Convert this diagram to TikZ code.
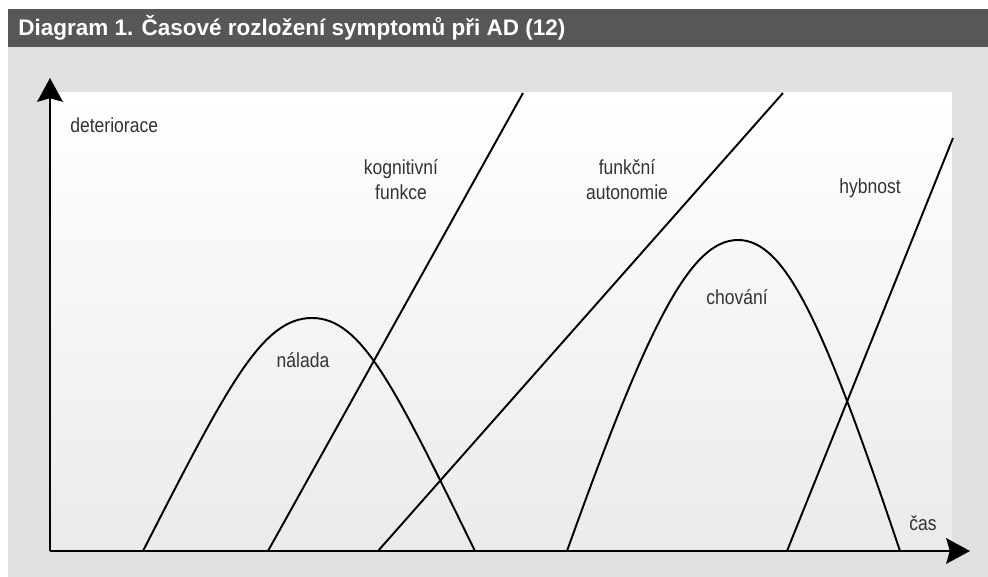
\documentclass[tikz,border=0pt]{standalone}
\usepackage{fontspec}
\setmainfont[FakeStretch=0.86]{Liberation Sans}
\newfontfamily\bannerfont{Liberation Sans}
\usetikzlibrary{arrows.meta}
\begin{document}
\begin{tikzpicture}[
  x=0.02cm, y=-0.02cm,
  axis/.style={line width=1.7pt, -{Stealth[length=13.5pt, width=14.5pt, inset=2pt]}},
  trend/.style={line width=1.1pt},
  lbl/.style={font=\fontsize{11.6}{14.2}\selectfont, text=black!80, align=center, inner sep=0pt},
  banner/.style={font=\bannerfont\fontsize{12.8}{15}\selectfont\bfseries, text=white, inner sep=0pt, anchor=west}
]
\useasboundingbox[fill=white] (0,0) rectangle (988,577);
\fill[black!66] (8,9) rectangle (988,47);
\fill[black!12] (8,47) rectangle (988,577);
\shade[top color=white, bottom color=black!8] (50,93) rectangle (952,551);

\node[banner] (title) at (18,28) {Diagram 1. Časové rozložení symptomů při AD (12)};

\coordinate (o)    at (50,551);
\coordinate (ytip) at (50,78);
\coordinate (xtip) at (970,551);

\coordinate (kf0) at (268,551);
\coordinate (kf1) at (523,93);
\coordinate (fa0) at (378,551);
\coordinate (fa1) at (783,93);
\coordinate (hb0) at (787,551);
\coordinate (hb1) at (953,138);
\coordinate (na0) at (143,551);
\coordinate (na1) at (312,318);
\coordinate (na2) at (475,551);
\coordinate (ch0) at (567,551);
\coordinate (ch1) at (738,240);
\coordinate (ch2) at (900,551);

\draw[trend] (kf0) -- (kf1);
\draw[trend] (fa0) -- (fa1);
\draw[trend] (hb0) -- (hb1);
\draw[trend] (na0) .. controls (228,385) and (262,318) .. (na1)
                   .. controls (362,318) and (395,388) .. (na2);
\draw[trend] (ch0) .. controls (648,325) and (690,240) .. (ch1)
                   .. controls (786,240) and (824,325) .. (ch2);

\draw[axis] (o) -- (ytip);
\draw[axis] (o) -- (xtip);

\node[lbl, anchor=west] (det) at (70,125) {deteriorace};
\node[lbl] (kog) at (401,180) {kognitivní\\funkce};
\node[lbl] (aut) at (627,180) {funkční\\autonomie};
\node[lbl] (hyb) at (870,188) {hybnost};
\node[lbl] (nal) at (303,360) {nálada};
\node[lbl] (cho) at (737,297) {chování};
\node[lbl] (cas) at (923,523) {čas};
\end{tikzpicture}
\end{document}
